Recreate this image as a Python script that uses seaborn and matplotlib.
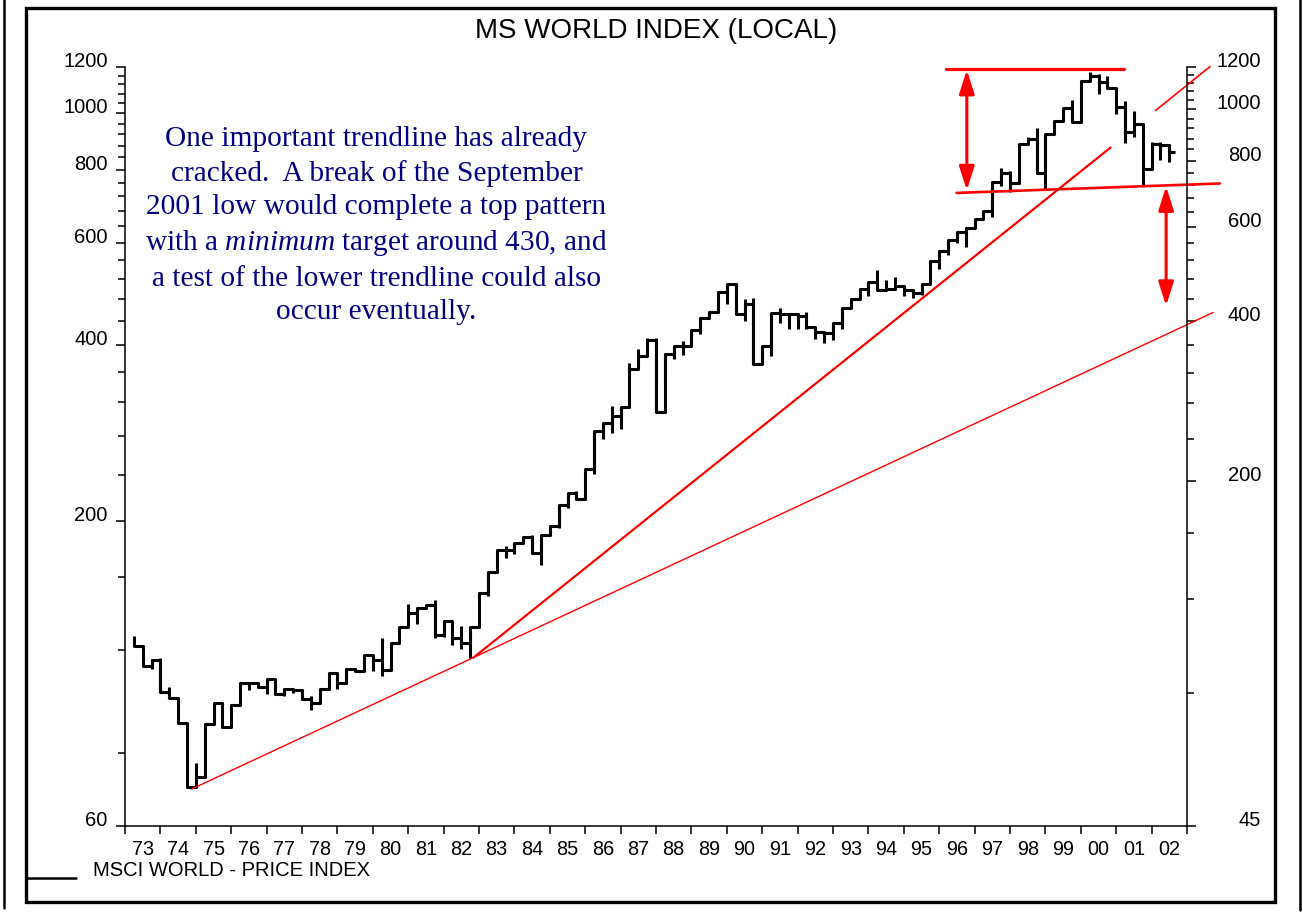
import numpy as np
import pandas as pd
import matplotlib
matplotlib.use("Agg")
import matplotlib.pyplot as plt
from matplotlib.lines import Line2D
from matplotlib.patches import Rectangle
from matplotlib.ticker import NullFormatter
import seaborn as sns

W, H = 1303, 917

# quarterly bars, Q1 1973 .. Q2 2002 (close of each quarter)
quarters = pd.period_range("1973Q1", "2002Q2", freq="Q")
close = [98.1, 90.0, 92.3, 80.3, 78.4, 70.4, 53.2, 55.7, 70.0, 76.5,
         69.0, 75.8, 83.5, 83.5, 82.0, 84.9, 79.8, 81.4, 81.2, 78.0,
         76.5, 81.4, 87.4, 83.5, 88.6, 88.1, 94.3, 92.3, 88.4, 99.2,
         106.6, 113.3, 115.5, 117.1, 102.9, 109.0, 101.4, 99.5, 106.6, 123.2,
         134.8, 148.6, 148.6, 153.0, 157.0, 146.5, 158.6, 164.9, 180.5, 190.3,
         185.0, 210.7, 248.0, 257.3, 264.9, 275.8, 325.1, 344.2, 367.8, 269.4,
         347.2, 359.7, 359.7, 384.1, 405.0, 415.0, 452.5, 469.9, 412.7, 431.3,
         332.6, 359.7, 414.9, 412.6, 412.6, 408.0, 390.5, 382.0, 379.0, 397.0,
         423.0, 440.7, 458.8, 473.6, 457.3, 458.8, 464.4, 457.5, 450.5, 469.9,
         518.0, 541.0, 568.0, 588.0, 597.0, 623.0, 643.0, 729.0, 757.0, 725.0,
         860.0, 878.0, 757.0, 898.0, 951.0, 1003.0, 947.0, 1130.0, 1153.0, 1125.0,
         1097.0, 1010.0, 904.0, 936.0, 772.0, 860.0, 857.0, 829.0]

# bars whose high / low poke out beyond the step line
wick_bar = [0, 2, 3, 4, 7, 13, 15, 17, 18, 20, 23, 24, 25, 27, 28, 31, 32, 34,
            35, 36, 37, 38, 40, 42, 43, 45, 46, 48, 49, 50, 52, 53, 54, 55, 56,
            57, 58, 59, 60, 61, 62, 63, 64, 67, 68, 69, 70, 71, 72, 73, 74, 75,
            76, 77, 78, 79, 80, 83, 84, 85, 86, 87, 88, 89, 91, 92, 93, 94, 97,
            98, 99, 101, 102, 103, 106, 108, 109, 110, 111, 112, 113, 114, 115,
            116, 117]
wick_low = [98.1, 88.7, np.nan, np.nan, np.nan, 81.2, 79.5, 79.0, 80.0, 74.2,
            81.4, 83.3, np.nan, 87.8, 86.1, np.nan, 107.9, 101.4, 101.9, 98.6,
            96.6, 93.0, 121.5, 143.4, 145.8, np.nan, 139.3, 163.0, 177.9, np.nan,
            206.0, 240.0, 246.0, 251.0, np.nan, np.nan, np.nan, np.nan, 307.8, 340.0,
            345.0, 360.0, 378.0, 430.0, np.nan, 400.0, np.nan, 335.0, 343.0, 397.0,
            387.0, 386.0, 387.0, 370.0, 364.0, 369.0, 387.0, 445.0, np.nan, np.nan,
            np.nan, 445.0, 442.5, 448.0, 500.0, 533.0, 561.0, 551.0, 626.0, 717.0,
            700.0, np.nan, np.nan, 708.0, np.nan, np.nan, 1067.0, np.nan, 980.0, 864.0,
            885.0, 721.0, np.nan, 803.0, 797.0]
wick_high = [102.4, 92.8, 93.2, 82.0, 59.2, np.nan, np.nan, np.nan, np.nan, 79.0,
             np.nan, np.nan, 89.0, np.nan, 101.4, 117.6, np.nan, 119.7, np.nan, np.nan,
             107.0, np.nan, np.nan, 151.2, np.nan, 158.6, np.nan, np.nan, np.nan, 192.0,
             np.nan, np.nan, 276.6, np.nan, 333.0, 355.0, 372.0, 372.0, np.nan, np.nan,
             366.0, np.nan, np.nan, np.nan, 472.0, 440.0, 441.0, np.nan, np.nan, 423.7,
             np.nan, np.nan, 415.0, np.nan, np.nan, np.nan, np.nan, np.nan, 498.0, 477.0,
             484.0, np.nan, np.nan, np.nan, np.nan, np.nan, np.nan, np.nan, np.nan, 776.0,
             765.0, 885.0, 920.0, np.nan, 1040.0, 1174.0, 1163.0, 1153.0, np.nan, 1035.0,
             993.0, np.nan, 868.0, 866.0, 860.0]

years = list(range(1973, 2003))
year_labels = ["%02d" % (y % 100) for y in years]
right_ticks = [45, 200, 400, 600, 800, 1000, 1200]
left_ticks = [60, 200, 400, 600, 800, 1000, 1200]

# red trendlines and targets, (year, index level)
lower_trend_x, lower_trend_y = [1974.88, 2003.74], [52.8, 415.0]
upper_trend_x, upper_trend_y = [1982.84, 2000.84], [93.2, 847.0]
upper_ext_x, upper_ext_y = [2002.11, 2003.65], [994.0, 1202.0]
top_x, top_y = [1996.19, 2001.22], [1192.0, 1192.0]
neck_x, neck_y = [1996.49, 2003.93], [696.0, 725.0]
arrow_up = (1996.78, 704.0, 1185.0)
arrow_down = (2002.41, 716.0, 427.0)

note = ("One important trendline has already\n"
        "cracked.  A break of the September\n"
        "2001 low would complete a top pattern\n"
        "with a $\\mathit{minimum}$ target around 430, and\n"
        "a test of the lower trendline could also\n"
        "occur eventually.")

sns.set_theme(style="ticks", rc={"axes.edgecolor": "black", "xtick.color": "black",
                                 "ytick.color": "black", "text.color": "black"})
plt.rcParams["font.family"] = ["Liberation Sans", "DejaVu Sans"]
plt.rcParams["mathtext.fontset"] = "custom"
plt.rcParams["mathtext.rm"] = "Liberation Serif"
plt.rcParams["mathtext.it"] = "Liberation Serif:italic"

t = quarters.year + quarters.quarter / 4.0
df = pd.DataFrame({"t": t, "close": close})

fig = plt.figure(figsize=(W / 100, H / 100), dpi=100)
ax = fig.add_axes([125 / W, 1 - 826 / H, 1062 / W, 759 / H])
axl = ax.twinx()

sns.lineplot(data=df, x="t", y="close", drawstyle="steps-post", color="black",
             linewidth=2.2, estimator=None, sort=False, ax=ax, legend=False)
ax.hlines(close[-1], t[-1], t[-1] + 0.17, color="black", lw=2.2)

wt = np.array([t[i] for i in wick_bar])
wc = np.array([close[i] for i in wick_bar])
wlo = np.where(np.isnan(wick_low), wc, wick_low)
whi = np.where(np.isnan(wick_high), wc, wick_high)
ax.vlines(wt, wlo, whi, color="black", lw=2.2)

ax.set_yscale("log")
ax.set_xlim(1973, 2003)
ax.set_ylim(45, 1200)
axl.set_yscale("log")
axl.set_ylim(60, 1200)

# red lines
ax.plot(lower_trend_x, lower_trend_y, color="red", lw=1.0, clip_on=False)
ax.plot(upper_trend_x, upper_trend_y, color="red", lw=1.6, clip_on=False)
ax.plot(upper_ext_x, upper_ext_y, color="red", lw=1.2, clip_on=False)
ax.plot(top_x, top_y, color="red", lw=2.3, clip_on=False)
ax.plot(neck_x, neck_y, color="red", lw=1.9, clip_on=False)
for ax_x, y0, y1 in [arrow_up, arrow_down]:
    ax.annotate("", xy=(ax_x, y1), xytext=(ax_x, y0),
                arrowprops=dict(arrowstyle="<|-|>,head_length=0.72,head_width=0.23",
                                mutation_scale=20, color="red", lw=2.2,
                                shrinkA=0, shrinkB=0), annotation_clip=False)

# x axis: ticks at year boundaries, labels in the middle of each year
ax.set_xticks(years + [2003])
ax.set_xticks([y + 0.5 for y in years], labels=year_labels, minor=True)
ax.tick_params(axis="x", which="major", direction="out", length=5.5, width=1.1,
               labelbottom=False)
ax.tick_params(axis="x", which="minor", length=0, labelsize=14.3, pad=10)
ax.set_xlabel("")
ax.set_ylabel("")

# right axis (data scale)
ax.set_yticks(right_ticks, labels=[str(v) for v in right_ticks], ha="right", va="baseline")
ax.set_yticks([v for v in range(80, 1200, 40) if v not in right_ticks], minor=True)
ax.yaxis.set_minor_formatter(NullFormatter())
ax.yaxis.tick_right()
ax.tick_params(axis="y", which="major", direction="out", length=6.7, width=1.1,
               labelsize=14.5, pad=46.8)
ax.tick_params(axis="y", which="minor", direction="out", length=4.8, width=1.1)

# left axis
axl.set_yticks(left_ticks, labels=[str(v) for v in left_ticks], va="baseline")
axl.set_yticks([v for v in range(80, 1200, 40) if v not in left_ticks], minor=True)
axl.yaxis.set_minor_formatter(NullFormatter())
axl.yaxis.tick_left()
axl.tick_params(axis="y", which="major", direction="out", length=6.7, width=1.1,
                labelsize=14.5, pad=5.8)
axl.tick_params(axis="y", which="minor", direction="out", length=4.8, width=1.1)
axl.set_ylabel("")

for s in axl.spines.values():
    s.set_visible(False)
ax.spines["top"].set_visible(False)
for s in ["left", "right", "bottom"]:
    ax.spines[s].set_linewidth(1.1)

ax.text(0.2368, 0.791, note, transform=ax.transAxes, ha="center", va="center",
        multialignment="center", fontsize=21.2, color="#000080",
        family="Liberation Serif", linespacing=1.37)

fig.text(656 / W, 1 - 31 / H, "MS WORLD INDEX (LOCAL)", ha="center", va="center",
         fontsize=20)

# legend strip at the bottom
fig.add_artist(Line2D([27 / W, 76 / W], [1 - 878 / H] * 2, color="black", lw=1.8))
fig.text(92.7 / W, 1 - 871 / H, "MSCI WORLD - PRICE INDEX", ha="left", va="center",
         fontsize=14.5)

# page frames
fig.add_artist(Rectangle((26 / W, 1 - 902 / H), 1249 / W, 894 / H, fill=False,
                         lw=2.4, edgecolor="black", transform=fig.transFigure))
fig.add_artist(Line2D([4 / W, 4 / W], [1, 1 - 908 / H], color="black", lw=1.8))
fig.add_artist(Line2D([1300 / W, 1300 / W], [1, 1 - 910 / H], color="black", lw=1.8))

fig.savefig("out.png", dpi=100)
